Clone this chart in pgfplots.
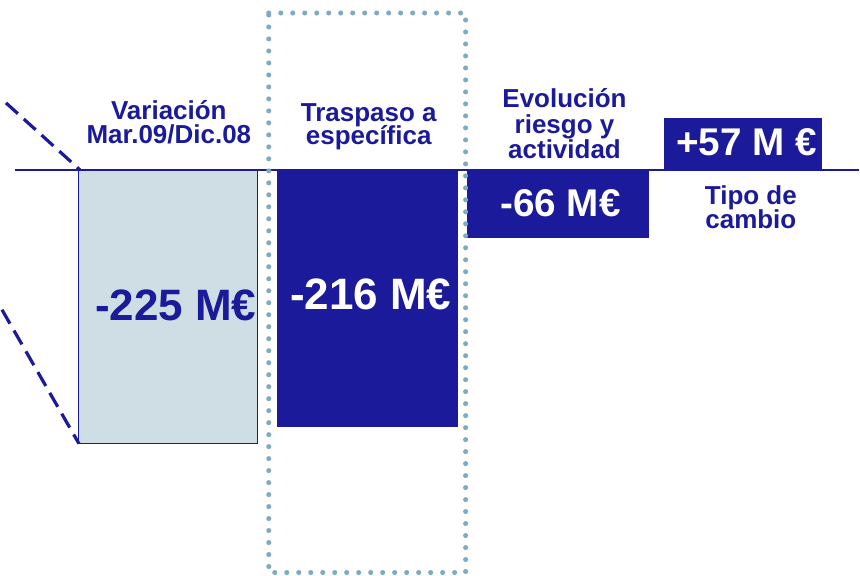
\documentclass[border=0pt]{standalone}
\usepackage{fontspec}
\setmainfont{Liberation Sans}
\usepackage{pgfplots}
\pgfplotsset{compat=1.18}
\definecolor{navybar}{HTML}{1A1A9A}
\definecolor{paleblue}{HTML}{CFDDE4}
\definecolor{dotblue}{HTML}{80AABE}
% 1 px of the reference = 0.75pt; y = 0 is the baseline, values in px
\newcommand{\labfont}{\fontsize{19.5}{23}\selectfont\bfseries}
\newcommand{\bigfont}{\fontsize{33}{38}\selectfont\bfseries}
\newcommand{\midfont}{\fontsize{29}{34}\selectfont\bfseries}
\tikzset{lbl/.style={anchor=base, inner sep=0pt},
  top/.style={text depth=0pt}}
\begin{document}
\begin{tikzpicture}
\begin{axis}[
  scale only axis,
  width=645pt, height=431.25pt,
  xmin=0, xmax=860, ymin=-405, ymax=170,
  hide axis, clip=false,
]
% keep the whole frame as the picture's box
\path (axis cs:0,-405) rectangle (axis cs:860,170);
% bars (center x, height)
\addplot[ybar, bar shift=0pt, bar width=179, fill=paleblue, draw=navybar, line width=0.75pt]
  coordinates {(168.5,-274)};
\addplot[ybar, bar shift=0pt, bar width=180, fill=navybar, draw=navybar, line width=0.5pt]
  coordinates {(368,-257)};
\addplot[ybar, bar shift=0pt, bar width=181, fill=navybar, draw=navybar, line width=0.5pt]
  coordinates {(558.5,-68)};
\addplot[ybar, bar shift=0pt, bar width=157, fill=navybar, draw=navybar, line width=0.5pt]
  coordinates {(743.5,52)};
% baseline
\addplot[navybar, line width=1.1pt] coordinates {(15,0) (860,0)};
% dashed connectors
\addplot[navybar, line width=2.4pt, dash pattern=on 12pt off 6pt] coordinates {(6,67) (80,0)};
\addplot[navybar, line width=2.4pt, dash pattern=on 12pt off 6pt] coordinates {(2,-140) (79,-274)};
% dotted frame
\addplot[dotblue, line width=3.8pt, line cap=round, dash pattern=on 0pt off 9pt]
  coordinates {(269,157) (466,157) (466,-403) (269,-403) (269,157)};
% labels
\node[lbl, top, text=navybar, font=\labfont] at (axis cs:169,50) {Variación};
\node[lbl, text=navybar, font=\labfont] at (axis cs:169,26) {Mar.09/Dic.08};
\node[lbl, top, text=navybar, font=\labfont] at (axis cs:369,48.5) {Traspaso a};
\node[lbl, text=navybar, font=\labfont] at (axis cs:369,25.7) {específica};
\node[lbl, top, text=navybar, font=\labfont] at (axis cs:565,62.3) {Evolución};
\node[lbl, top, text=navybar, font=\labfont] at (axis cs:565,36.7) {riesgo y};
\node[lbl, text=navybar, font=\labfont] at (axis cs:565,11.7) {actividad};
\node[lbl, top, text=navybar, font=\labfont] at (axis cs:751.5,-35) {Tipo de};
\node[lbl, text=navybar, font=\labfont] at (axis cs:751.5,-58.3) {cambio};
% values
\node[lbl, text=navybar, font=\bigfont] at (axis cs:176,-150.7) {-225 M€};
\node[lbl, text=white, font=\bigfont] at (axis cs:371,-139.3) {-216 M€};
\node[lbl, text=white, font=\midfont] at (axis cs:561,-46.7) {-66 M€};
\node[lbl, text=white, font=\midfont] at (axis cs:747,14) {+57 M €};
\end{axis}
\end{tikzpicture}
\end{document}
